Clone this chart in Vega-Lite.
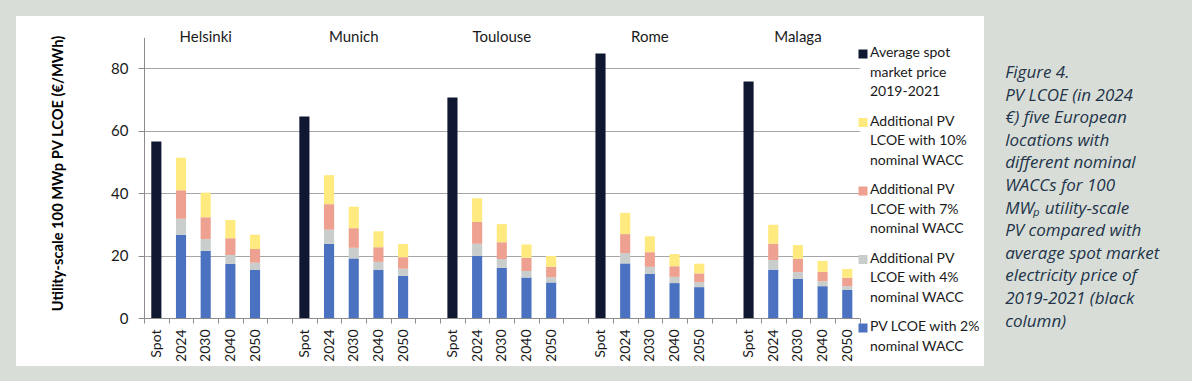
{
  "$schema": "https://vega.github.io/schema/vega-lite/v6.json",
  "width": 968,
  "height": 350,
  "autosize": {"type": "none"},
  "padding": {"left": 16, "top": 16, "right": 208, "bottom": 15},
  "background": "#d8ded7",
  "view": {"fill": "white", "stroke": null},
  "config": {
    "font": "Lato",
    "style": {"guide-label": {"lineHeight": 19.5}}
  },
  "title": {
    "text": ["Figure 4.", "PV LCOE (in 2024", "€) five European", "locations with", "different nominal", "WACCs for 100", "MWₚ utility-scale", "PV compared with", "average spot market", "electricity price of", "2019-2021 (black", "column)"],
    "orient": "right",
    "anchor": "start",
    "angle": 0,
    "align": "left",
    "baseline": "top",
    "font": "Open Sans",
    "fontSize": 17,
    "fontStyle": "italic",
    "fontWeight": "normal",
    "color": "#22334a",
    "lineHeight": 22.6,
    "offset": -133,
    "dy": 49
  },
  "layer": [
    {
      "data": {
        "values": [
          {"location": "Helsinki", "period": "Spot", "series": "spot", "value": 56.6},
          {"location": "Helsinki", "period": "2024", "series": "w2", "value": 26.7},
          {"location": "Helsinki", "period": "2024", "series": "w4", "value": 5.1},
          {"location": "Helsinki", "period": "2024", "series": "w7", "value": 9.2},
          {"location": "Helsinki", "period": "2024", "series": "w10", "value": 10.4},
          {"location": "Helsinki", "period": "2030", "series": "w2", "value": 21.5},
          {"location": "Helsinki", "period": "2030", "series": "w4", "value": 3.8},
          {"location": "Helsinki", "period": "2030", "series": "w7", "value": 7.0},
          {"location": "Helsinki", "period": "2030", "series": "w10", "value": 7.9},
          {"location": "Helsinki", "period": "2040", "series": "w2", "value": 17.3},
          {"location": "Helsinki", "period": "2040", "series": "w4", "value": 2.9},
          {"location": "Helsinki", "period": "2040", "series": "w7", "value": 5.4},
          {"location": "Helsinki", "period": "2040", "series": "w10", "value": 5.8},
          {"location": "Helsinki", "period": "2050", "series": "w2", "value": 15.4},
          {"location": "Helsinki", "period": "2050", "series": "w4", "value": 2.3},
          {"location": "Helsinki", "period": "2050", "series": "w7", "value": 4.4},
          {"location": "Helsinki", "period": "2050", "series": "w10", "value": 4.6},
          {"location": "Munich", "period": "Spot", "series": "spot", "value": 64.6},
          {"location": "Munich", "period": "2024", "series": "w2", "value": 23.8},
          {"location": "Munich", "period": "2024", "series": "w4", "value": 4.5},
          {"location": "Munich", "period": "2024", "series": "w7", "value": 8.2},
          {"location": "Munich", "period": "2024", "series": "w10", "value": 9.3},
          {"location": "Munich", "period": "2030", "series": "w2", "value": 19.1},
          {"location": "Munich", "period": "2030", "series": "w4", "value": 3.4},
          {"location": "Munich", "period": "2030", "series": "w7", "value": 6.3},
          {"location": "Munich", "period": "2030", "series": "w10", "value": 6.9},
          {"location": "Munich", "period": "2040", "series": "w2", "value": 15.5},
          {"location": "Munich", "period": "2040", "series": "w4", "value": 2.5},
          {"location": "Munich", "period": "2040", "series": "w7", "value": 4.7},
          {"location": "Munich", "period": "2040", "series": "w10", "value": 5.1},
          {"location": "Munich", "period": "2050", "series": "w2", "value": 13.5},
          {"location": "Munich", "period": "2050", "series": "w4", "value": 2.3},
          {"location": "Munich", "period": "2050", "series": "w7", "value": 3.7},
          {"location": "Munich", "period": "2050", "series": "w10", "value": 4.2},
          {"location": "Toulouse", "period": "Spot", "series": "spot", "value": 70.7},
          {"location": "Toulouse", "period": "2024", "series": "w2", "value": 19.9},
          {"location": "Toulouse", "period": "2024", "series": "w4", "value": 3.9},
          {"location": "Toulouse", "period": "2024", "series": "w7", "value": 7.0},
          {"location": "Toulouse", "period": "2024", "series": "w10", "value": 7.6},
          {"location": "Toulouse", "period": "2030", "series": "w2", "value": 16.1},
          {"location": "Toulouse", "period": "2030", "series": "w4", "value": 2.8},
          {"location": "Toulouse", "period": "2030", "series": "w7", "value": 5.4},
          {"location": "Toulouse", "period": "2030", "series": "w10", "value": 5.8},
          {"location": "Toulouse", "period": "2040", "series": "w2", "value": 13.0},
          {"location": "Toulouse", "period": "2040", "series": "w4", "value": 2.1},
          {"location": "Toulouse", "period": "2040", "series": "w7", "value": 4.2},
          {"location": "Toulouse", "period": "2040", "series": "w10", "value": 4.3},
          {"location": "Toulouse", "period": "2050", "series": "w2", "value": 11.4},
          {"location": "Toulouse", "period": "2050", "series": "w4", "value": 1.7},
          {"location": "Toulouse", "period": "2050", "series": "w7", "value": 3.3},
          {"location": "Toulouse", "period": "2050", "series": "w10", "value": 3.5},
          {"location": "Rome", "period": "Spot", "series": "spot", "value": 84.8},
          {"location": "Rome", "period": "2024", "series": "w2", "value": 17.5},
          {"location": "Rome", "period": "2024", "series": "w4", "value": 3.3},
          {"location": "Rome", "period": "2024", "series": "w7", "value": 6.1},
          {"location": "Rome", "period": "2024", "series": "w10", "value": 6.8},
          {"location": "Rome", "period": "2030", "series": "w2", "value": 14.1},
          {"location": "Rome", "period": "2030", "series": "w4", "value": 2.3},
          {"location": "Rome", "period": "2030", "series": "w7", "value": 4.7},
          {"location": "Rome", "period": "2030", "series": "w10", "value": 5.1},
          {"location": "Rome", "period": "2040", "series": "w2", "value": 11.2},
          {"location": "Rome", "period": "2040", "series": "w4", "value": 2.0},
          {"location": "Rome", "period": "2040", "series": "w7", "value": 3.4},
          {"location": "Rome", "period": "2040", "series": "w10", "value": 3.9},
          {"location": "Rome", "period": "2050", "series": "w2", "value": 9.9},
          {"location": "Rome", "period": "2050", "series": "w4", "value": 1.6},
          {"location": "Rome", "period": "2050", "series": "w7", "value": 2.8},
          {"location": "Rome", "period": "2050", "series": "w10", "value": 3.1},
          {"location": "Malaga", "period": "Spot", "series": "spot", "value": 75.8},
          {"location": "Malaga", "period": "2024", "series": "w2", "value": 15.5},
          {"location": "Malaga", "period": "2024", "series": "w4", "value": 3.1},
          {"location": "Malaga", "period": "2024", "series": "w7", "value": 5.2},
          {"location": "Malaga", "period": "2024", "series": "w10", "value": 6.1},
          {"location": "Malaga", "period": "2030", "series": "w2", "value": 12.5},
          {"location": "Malaga", "period": "2030", "series": "w4", "value": 2.2},
          {"location": "Malaga", "period": "2030", "series": "w7", "value": 4.3},
          {"location": "Malaga", "period": "2030", "series": "w10", "value": 4.4},
          {"location": "Malaga", "period": "2040", "series": "w2", "value": 10.2},
          {"location": "Malaga", "period": "2040", "series": "w4", "value": 1.6},
          {"location": "Malaga", "period": "2040", "series": "w7", "value": 3.0},
          {"location": "Malaga", "period": "2040", "series": "w10", "value": 3.5},
          {"location": "Malaga", "period": "2050", "series": "w2", "value": 9.0},
          {"location": "Malaga", "period": "2050", "series": "w4", "value": 1.2},
          {"location": "Malaga", "period": "2050", "series": "w7", "value": 2.7},
          {"location": "Malaga", "period": "2050", "series": "w10", "value": 2.8}
        ]
      },
      "transform": [
        {"calculate": "datum.location + '|' + datum.period", "as": "slot"},
        {"calculate": "indexof(['w2','w4','w7','w10','spot'], datum.series)", "as": "rank"}
      ],
      "mark": {"type": "bar", "width": {"band": 0.41}},
      "encoding": {
        "x": {
          "field": "slot",
          "type": "nominal",
          "sort": null,
          "scale": {
            "domain": ["Helsinki|Spot","Helsinki|2024","Helsinki|2030","Helsinki|2040","Helsinki|2050","Helsinki|",
                       "Munich|Spot","Munich|2024","Munich|2030","Munich|2040","Munich|2050","Munich|",
                       "Toulouse|Spot","Toulouse|2024","Toulouse|2030","Toulouse|2040","Toulouse|2050","Toulouse|",
                       "Rome|Spot","Rome|2024","Rome|2030","Rome|2040","Rome|2050","Rome|",
                       "Malaga|Spot","Malaga|2024","Malaga|2030","Malaga|2040","Malaga|2050"],
            "range": [128, 843.6],
            "paddingInner": 0,
            "paddingOuter": 0
          },
          "axis": {
            "title": null,
            "offset": -48,
            "labelExpr": "split(datum.value, '|')[1]",
            "labelAngle": -90,
            "labelAlign": "right",
            "labelBaseline": "middle",
            "labelFontSize": 14,
            "labelColor": "#1a1a1a",
            "labelPadding": 6,
            "labelOverlap": false,
            "tickBand": "extent",
            "tickSize": 5,
            "tickColor": "#8c8c8c",
            "domainColor": "#8c8c8c",
            "grid": false
          }
        },
        "y": {
          "field": "value",
          "type": "quantitative",
          "stack": "zero",
          "scale": {"domain": [0, 90], "range": [302, 21.3], "nice": false, "zero": true},
          "axis": {
            "title": "Utility-scale 100 MWp PV LCOE (€/MWh)",
            "titleFontSize": 14.7,
            "titleFontWeight": "bold",
            "titleColor": "#000000",
            "titlePadding": 45,
            "titleY": 157,
            "values": [0, 20, 40, 60, 80],
            "offset": -128,
            "labelFontSize": 15,
            "labelColor": "#1a1a1a",
            "labelPadding": 10,
            "tickSize": 6,
            "tickColor": "#8c8c8c",
            "domainColor": "#8c8c8c",
            "grid": true,
            "gridColor": "#a6a6a6"
          }
        },
        "color": {
          "field": "series",
          "type": "nominal",
          "scale": {
            "domain": ["spot", "w10", "w7", "w4", "w2"],
            "range": ["#101731", "#ffea7f", "#eea191", "#c9cdcc", "#4a72c0"]
          },
          "legend": {
            "title": null,
            "orient": "none",
            "legendX": 840,
            "legendY": 23,
            "padding": 0,
            "symbolType": "M-1,0.78H1V2.78H-1Z",
            "symbolSize": 81,
            "symbolStrokeWidth": 0,
            "symbolOpacity": 1,
            "labelFontSize": 14,
            "labelColor": "#1a1a1a",
            "labelLimit": 300,
            "labelOffset": 0,
            "labelBaseline": "top",
            "rowPadding": 8.5,
            "labelExpr": "datum.value == 'spot' ? ['Average spot','market price','2019-2021'] : datum.value == 'w10' ? ['Additional PV','LCOE with 10%','nominal WACC'] : datum.value == 'w7' ? ['Additional PV','LCOE with 7%','nominal WACC'] : datum.value == 'w4' ? ['Additional PV','LCOE with 4%','nominal WACC'] : ['PV LCOE with 2%','nominal WACC']"
          }
        },
        "order": {"field": "rank", "type": "quantitative"}
      }
    },
    {
      "data": {
        "values": [
          {"location": "Helsinki"},
          {"location": "Munich"},
          {"location": "Toulouse"},
          {"location": "Rome"},
          {"location": "Malaga"}
        ]
      },
      "transform": [
        {"calculate": "datum.location + '|2030'", "as": "slot"}
      ],
      "mark": {"type": "text", "fontSize": 15, "color": "#1a1a1a", "baseline": "middle", "align": "center"},
      "encoding": {
        "x": {"field": "slot", "type": "nominal"},
        "y": {"datum": 90, "type": "quantitative"},
        "text": {"field": "location"}
      }
    }
  ]
}
